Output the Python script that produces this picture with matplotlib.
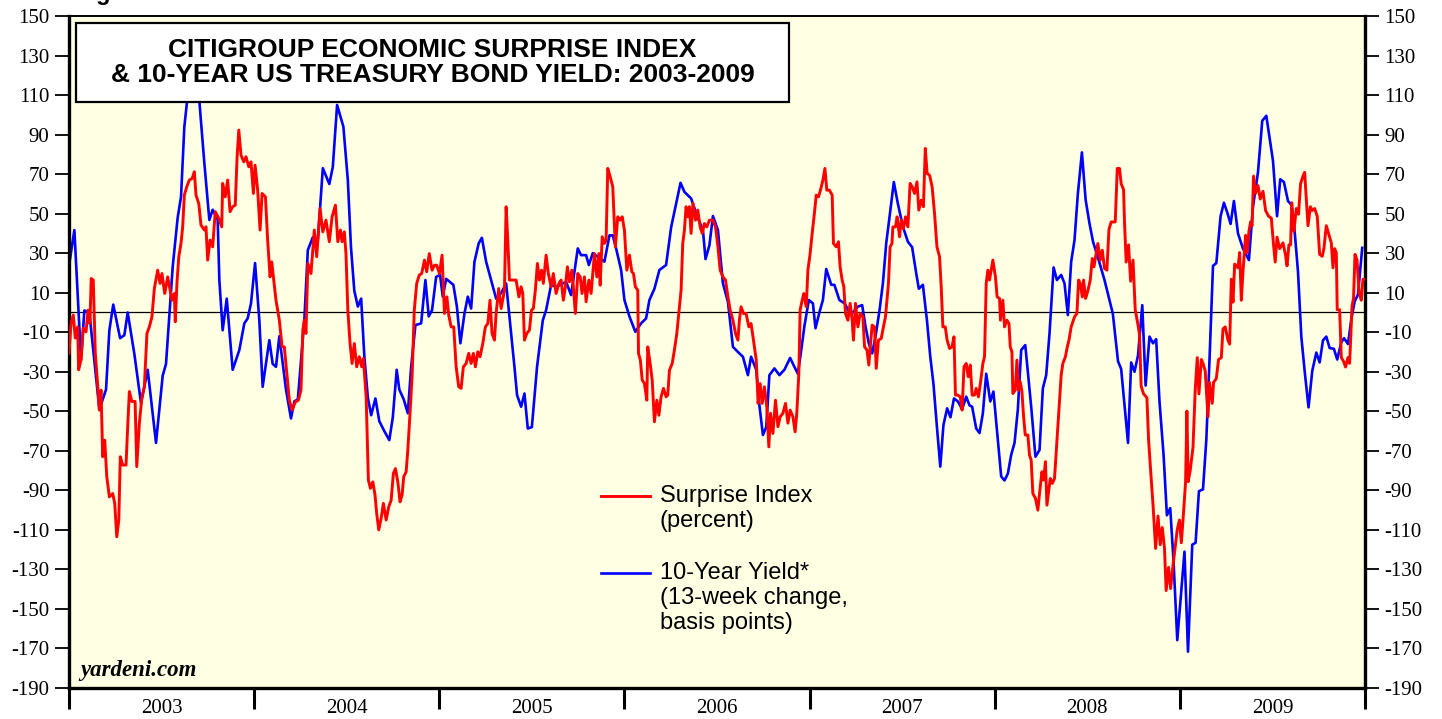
"""
Citigroup Economic Surprise Index vs 13-week change in 10-year UST yield, 2003-2009.
Values read off the yardeni.com chart by eye.
"""
import numpy as np
import matplotlib.pyplot as plt
import matplotlib.patches as patches

plt.rcParams["axes.unicode_minus"] = False

# ── Surprise index (percent): time in years since 1 Jan 2003 ──
red_yrs = [
    0.000, 0.011, 0.023, 0.034, 0.047, 0.052, 0.065, 0.077, 0.092, 0.103, 0.113, 0.120,
    0.131, 0.142, 0.155, 0.164, 0.173, 0.182, 0.193, 0.204, 0.218, 0.236, 0.247, 0.258,
    0.269, 0.277, 0.290, 0.308, 0.317, 0.326, 0.339, 0.357, 0.366, 0.380, 0.394, 0.407,
    0.421, 0.434, 0.448, 0.461, 0.479, 0.492, 0.502, 0.517, 0.533, 0.546, 0.556, 0.569,
    0.574, 0.583, 0.593, 0.605, 0.614, 0.623, 0.636, 0.650, 0.665, 0.677, 0.686, 0.701,
    0.713, 0.731, 0.740, 0.749, 0.762, 0.776, 0.790, 0.809, 0.825, 0.830, 0.844, 0.857,
    0.870, 0.884, 0.898, 0.908, 0.917, 0.929, 0.944, 0.956, 0.971, 0.983, 0.996, 1.005,
    1.019, 1.032, 1.043, 1.061, 1.073, 1.086, 1.095, 1.104, 1.118, 1.136, 1.151, 1.163,
    1.178, 1.190, 1.205, 1.223, 1.239, 1.253, 1.263, 1.271, 1.280, 1.290, 1.307, 1.325,
    1.338, 1.356, 1.371, 1.388, 1.406, 1.421, 1.439, 1.452, 1.466, 1.475, 1.487, 1.496,
    1.506, 1.518, 1.529, 1.541, 1.554, 1.568, 1.581, 1.590, 1.605, 1.617, 1.628, 1.641,
    1.653, 1.662, 1.673, 1.686, 1.698, 1.713, 1.727, 1.740, 1.752, 1.763, 1.776, 1.788,
    1.799, 1.808, 1.821, 1.830, 1.842, 1.853, 1.865, 1.878, 1.892, 1.905, 1.920, 1.932,
    1.946, 1.961, 1.974, 1.986, 2.001, 2.015, 2.028, 2.041, 2.051, 2.064, 2.078, 2.091,
    2.105, 2.118, 2.130, 2.145, 2.159, 2.172, 2.184, 2.195, 2.208, 2.220, 2.235, 2.249,
    2.262, 2.274, 2.285, 2.298, 2.307, 2.321, 2.334, 2.352, 2.361, 2.370, 2.379, 2.397,
    2.415, 2.430, 2.442, 2.451, 2.460, 2.473, 2.487, 2.498, 2.508, 2.519, 2.530, 2.541,
    2.552, 2.562, 2.577, 2.589, 2.604, 2.616, 2.631, 2.646, 2.658, 2.670, 2.681, 2.692,
    2.703, 2.716, 2.724, 2.735, 2.748, 2.761, 2.771, 2.784, 2.793, 2.808, 2.820, 2.838,
    2.851, 2.862, 2.869, 2.880, 2.892, 2.901, 2.910, 2.923, 2.937, 2.951, 2.964, 2.977,
    2.988, 3.000, 3.013, 3.027, 3.040, 3.049, 3.059, 3.072, 3.076, 3.086, 3.096, 3.108,
    3.121, 3.126, 3.139, 3.150, 3.162, 3.175, 3.186, 3.198, 3.211, 3.225, 3.234, 3.243,
    3.258, 3.270, 3.283, 3.297, 3.306, 3.315, 3.324, 3.333, 3.343, 3.351, 3.360, 3.370,
    3.384, 3.396, 3.409, 3.420, 3.432, 3.445, 3.459, 3.478, 3.492, 3.505, 3.517, 3.532,
    3.546, 3.559, 3.571, 3.586, 3.600, 3.613, 3.621, 3.630, 3.643, 3.657, 3.672, 3.684,
    3.697, 3.712, 3.722, 3.733, 3.744, 3.756, 3.769, 3.780, 3.789, 3.802, 3.816, 3.829,
    3.841, 3.856, 3.870, 3.883, 3.895, 3.910, 3.922, 3.931, 3.942, 3.949, 3.960, 3.969,
    3.982, 3.991, 4.003, 4.014, 4.026, 4.036, 4.048, 4.059, 4.072, 4.083, 4.093, 4.107,
    4.122, 4.129, 4.144, 4.156, 4.165, 4.176, 4.185, 4.194, 4.207, 4.219, 4.230, 4.237,
    4.248, 4.261, 4.273, 4.288, 4.297, 4.310, 4.320, 4.327, 4.338, 4.351, 4.360, 4.372,
    4.387, 4.399, 4.410, 4.418, 4.426, 4.435, 4.445, 4.450, 4.464, 4.473, 4.486, 4.495,
    4.507, 4.518, 4.531, 4.543, 4.554, 4.567, 4.580, 4.590, 4.603, 4.615, 4.625, 4.635,
    4.648, 4.662, 4.675, 4.688, 4.702, 4.711, 4.720, 4.733, 4.743, 4.756, 4.769, 4.780,
    4.788, 4.801, 4.814, 4.824, 4.834, 4.846, 4.857, 4.868, 4.878, 4.891, 4.900, 4.912,
    4.925, 4.936, 4.945, 4.954, 4.963, 4.972, 4.981, 4.990, 5.004, 5.013, 5.026, 5.031,
    5.044, 5.053, 5.066, 5.077, 5.084, 5.093, 5.098, 5.111, 5.120, 5.129, 5.138, 5.147,
    5.156, 5.165, 5.179, 5.188, 5.197, 5.206, 5.220, 5.233, 5.242, 5.255, 5.264, 5.274,
    5.282, 5.293, 5.300, 5.311, 5.323, 5.332, 5.341, 5.350, 5.359, 5.368, 5.382, 5.392,
    5.401, 5.413, 5.422, 5.431, 5.444, 5.453, 5.462, 5.473, 5.480, 5.491, 5.504, 5.516,
    5.527, 5.536, 5.548, 5.557, 5.570, 5.581, 5.593, 5.606, 5.617, 5.629, 5.651, 5.662,
    5.674, 5.683, 5.696, 5.701, 5.710, 5.723, 5.734, 5.747, 5.759, 5.774, 5.782, 5.791,
    5.804, 5.822, 5.831, 5.842, 5.855, 5.869, 5.882, 5.894, 5.905, 5.917, 5.926, 5.939,
    5.950, 5.963, 5.975, 5.986, 5.998, 6.008, 6.020, 6.031, 6.038, 6.045, 6.056, 6.071,
    6.083, 6.094, 6.103, 6.116, 6.125, 6.137, 6.152, 6.160, 6.175, 6.182, 6.197, 6.209,
    6.224, 6.233, 6.245, 6.260, 6.269, 6.278, 6.287, 6.296, 6.314, 6.323, 6.332, 6.341,
    6.355, 6.364, 6.373, 6.382, 6.390, 6.398, 6.409, 6.422, 6.434, 6.449, 6.463, 6.479,
    6.494, 6.506, 6.515, 6.525, 6.539, 6.557, 6.570, 6.579, 6.589, 6.598, 6.605, 6.616,
    6.629, 6.641, 6.652, 6.665, 6.674, 6.683, 6.692, 6.705, 6.715, 6.728, 6.742, 6.755,
    6.769, 6.778, 6.791, 6.803, 6.818, 6.827, 6.836, 6.845, 6.850, 6.863, 6.872, 6.884,
    6.895, 6.908, 6.917, 6.930, 6.938, 6.946, 6.957, 6.968, 6.980, 6.989, 7.000,
]
red_vals = [
    -20.7, -5.6, -1.3, -13.0, -7.3, -29.0, -24.0, -8.0, -9.8, 1.2, -5.6, 17.2,
    16.4, -20.7, -36.8, -49.4, -39.3, -73.0, -64.6, -83.0, -93.3, -91.6, -96.6, -113.5,
    -105.0, -73.0, -77.2, -77.2, -57.8, -40.0, -45.0, -45.0, -78.0, -56.0, -42.7, -37.6,
    -10.6, -7.3, -2.2, 12.1, 21.4, 14.7, 19.7, 9.6, 18.0, 11.3, 6.2, 9.6,
    -4.7, 14.7, 28.2, 35.0, 43.3, 59.4, 63.6, 67.0, 67.8, 71.2, 59.4, 55.0,
    44.2, 41.7, 43.3, 26.5, 36.6, 33.2, 51.0, 47.6, 43.3, 65.3, 58.5, 67.0,
    51.0, 53.5, 54.3, 78.8, 92.3, 79.6, 76.2, 78.8, 73.7, 76.2, 60.2, 74.5,
    61.9, 41.7, 60.2, 58.5, 36.6, 18.0, 25.6, 18.0, 6.2, -3.9, -17.4, -17.4,
    -32.5, -44.4, -49.4, -45.2, -44.4, -39.3, -8.9, -3.9, -10.6, 24.8, 19.7, 41.7,
    28.2, 52.6, 40.8, 46.7, 35.8, 48.4, 54.3, 35.8, 41.7, 35.8, 40.8, 29.8,
    1.2, -15.7, -25.8, -15.7, -27.5, -22.4, -27.5, -23.3, -42.7, -84.8, -89.0, -85.7,
    -92.4, -101.7, -110.0, -104.2, -96.6, -105.0, -98.3, -95.0, -81.5, -79.0, -85.7, -95.8,
    -92.4, -83.1, -80.6, -69.6, -51.0, -32.5, 1.2, 14.7, 18.9, 19.7, 26.5, 20.6,
    29.8, 21.4, 23.9, 23.9, 19.7, 29.0, -0.5, 7.9, -1.3, -7.3, -7.3, -27.5,
    -37.6, -38.4, -27.5, -25.8, -20.7, -25.8, -20.7, -27.5, -19.9, -22.4, -15.7, -7.3,
    -5.6, 6.2, -10.6, -14.0, -0.5, 12.1, 2.0, 11.3, 53.5, 36.6, 16.4, 16.4,
    16.4, 7.9, 13.0, 9.6, -14.0, -10.6, -8.9, 1.2, 2.0, 11.3, 24.8, 16.4,
    21.4, 14.7, 29.0, 19.7, 13.0, 19.7, 9.6, 14.7, 16.4, 6.2, 13.0, 23.1,
    15.5, 21.4, 13.0, -0.5, 19.7, 18.0, 9.6, 18.0, 5.4, 16.4, 9.6, 29.8,
    18.0, 29.8, 13.8, 38.3, 34.9, 36.6, 72.9, 68.7, 63.6, 33.2, 48.4, 46.7,
    48.4, 41.7, 21.4, 29.0, 20.6, 19.7, 13.0, 11.3, -20.7, -24.1, -34.2, -35.9,
    -44.4, -17.4, -25.8, -34.2, -55.3, -44.4, -52.0, -42.7, -38.4, -42.7, -41.8, -29.3,
    -25.8, -19.0, -10.6, 2.9, 11.3, 34.9, 41.7, 53.5, 48.4, 53.5, 40.0, 55.2,
    46.7, 51.8, 43.3, 40.0, 45.0, 43.3, 46.7, 46.7, 43.3, 33.2, 21.4, 18.0,
    16.4, 7.9, 1.2, -3.9, -10.6, -14.0, -3.9, 2.9, -0.5, -0.5, -7.3, -5.6,
    -14.0, -24.1, -46.0, -36.0, -46.0, -37.6, -47.7, -68.0, -51.0, -61.2, -44.4, -57.8,
    -52.8, -51.0, -46.0, -56.0, -49.4, -52.8, -60.4, -51.0, -30.9, 1.2, 6.2, 9.6,
    2.9, 21.4, 29.8, 40.0, 50.1, 59.4, 58.5, 61.9, 67.0, 72.9, 61.9, 61.9,
    59.4, 34.9, 33.2, 35.8, 23.1, 16.4, 13.0, -0.5, -3.9, 4.6, -3.9, -14.0,
    4.6, -7.3, -0.5, -2.2, -17.4, -19.0, -26.6, -18.2, -6.4, -7.3, -28.3, -14.0,
    -13.2, -7.3, -2.2, 6.2, 14.7, 33.2, 34.9, 43.3, 43.3, 48.4, 38.3, 46.7,
    42.5, 48.4, 43.3, 65.3, 63.6, 60.2, 66.1, 51.8, 56.8, 53.5, 83.0, 70.3,
    69.5, 63.6, 50.1, 33.2, 28.2, 13.0, -7.3, -7.3, -14.0, -18.2, -17.4, -12.3,
    -41.8, -41.8, -42.7, -49.4, -27.5, -25.8, -32.5, -26.6, -41.8, -41.8, -38.4, -42.7,
    -34.2, -25.8, -22.4, 14.7, 21.4, 16.4, 21.4, 26.5, 18.0, 7.9, 7.1, -3.9,
    6.2, -7.3, -3.9, -5.6, -17.4, -19.9, -41.0, -39.3, -24.1, -39.3, -35.1, -40.1,
    -52.8, -62.0, -62.0, -72.2, -74.7, -91.6, -94.0, -100.0, -91.6, -80.6, -84.8, -75.5,
    -97.5, -89.0, -84.0, -86.5, -84.0, -71.3, -57.8, -44.4, -31.7, -25.8, -22.4, -17.4,
    -14.0, -7.3, -4.7, -2.2, -0.5, 16.4, 14.7, 7.9, 16.4, 7.1, 11.3, 16.4,
    27.3, 23.1, 29.8, 34.9, 26.5, 31.5, 22.3, 21.4, 42.0, 45.8, 45.8, 72.9,
    72.9, 65.1, 62.2, 45.8, 25.5, 34.2, 15.8, 26.5, 1.4, -6.4, -11.2, -37.3,
    -41.2, -43.1, -64.3, -79.8, -97.2, -119.4, -103.0, -117.5, -108.8, -119.4, -140.7, -129.0,
    -139.7, -128.0, -118.5, -109.8, -105.0, -116.5, -101.0, -85.6, -49.9, -85.6, -79.8, -68.2,
    -39.2, -22.8, -41.2, -23.8, -25.7, -29.6, -52.8, -35.4, -46.0, -35.4, -33.4, -23.8,
    -22.8, -8.3, -7.3, -14.1, -16.0, 16.8, 5.2, 24.5, 22.6, 30.3, 6.2, 20.7,
    39.0, 30.3, 41.0, 45.8, 43.9, 69.0, 60.3, 64.2, 57.4, 61.3, 51.6, 48.7,
    47.7, 34.2, 25.5, 38.1, 32.3, 35.2, 29.4, 23.6, 34.2, 34.2, 55.5, 41.0,
    52.6, 49.7, 65.1, 69.0, 70.9, 57.4, 43.9, 53.5, 51.6, 52.6, 48.7, 29.4,
    28.4, 32.3, 43.9, 40.0, 35.2, 22.6, 32.3, 30.3, 1.4, 1.4, -22.8, -24.7,
    -27.6, -22.8, -25.7, 3.3, 7.1, 29.4, 26.5, 10.0, 6.2, 16.8, 16.8,
]

# ── 10-year yield, 13-week change (basis points) ──
blue_yrs = [
    0.002, 0.029, 0.065, 0.083, 0.110, 0.164, 0.200, 0.218, 0.239, 0.276, 0.299, 0.317,
    0.353, 0.389, 0.425, 0.470, 0.506, 0.524, 0.560, 0.587, 0.605, 0.623, 0.655, 0.704,
    0.731, 0.758, 0.776, 0.803, 0.812, 0.830, 0.852, 0.884, 0.920, 0.947, 0.965, 0.983,
    1.005, 1.028, 1.046, 1.082, 1.100, 1.118, 1.136, 1.172, 1.199, 1.217, 1.236, 1.271,
    1.290, 1.317, 1.344, 1.371, 1.406, 1.425, 1.448, 1.482, 1.506, 1.523, 1.541, 1.560,
    1.578, 1.595, 1.614, 1.632, 1.655, 1.676, 1.703, 1.730, 1.749, 1.770, 1.784, 1.808,
    1.830, 1.848, 1.871, 1.902, 1.925, 1.943, 1.961, 1.983, 2.004, 2.019, 2.037, 2.076,
    2.095, 2.114, 2.136, 2.154, 2.172, 2.190, 2.213, 2.230, 2.253, 2.280, 2.307, 2.334,
    2.361, 2.388, 2.406, 2.420, 2.442, 2.460, 2.478, 2.500, 2.528, 2.559, 2.577, 2.604,
    2.631, 2.685, 2.712, 2.748, 2.766, 2.793, 2.808, 2.829, 2.892, 2.919, 2.937, 2.955,
    2.982, 3.000, 3.027, 3.059, 3.090, 3.117, 3.135, 3.162, 3.189, 3.225, 3.252, 3.279,
    3.303, 3.324, 3.360, 3.396, 3.424, 3.438, 3.459, 3.478, 3.505, 3.532, 3.559, 3.586,
    3.613, 3.640, 3.667, 3.684, 3.712, 3.729, 3.748, 3.766, 3.783, 3.810, 3.837, 3.864,
    3.895, 3.918, 3.937, 3.955, 3.972, 3.996, 4.018, 4.032, 4.053, 4.072, 4.090, 4.117,
    4.134, 4.161, 4.189, 4.216, 4.234, 4.261, 4.284, 4.302, 4.320, 4.338, 4.356, 4.378,
    4.396, 4.414, 4.432, 4.455, 4.477, 4.504, 4.531, 4.554, 4.576, 4.590, 4.612, 4.634,
    4.652, 4.669, 4.688, 4.706, 4.723, 4.743, 4.761, 4.780, 4.801, 4.824, 4.846, 4.864,
    4.878, 4.900, 4.918, 4.936, 4.954, 4.976, 4.993, 5.017, 5.035, 5.053, 5.071, 5.089,
    5.107, 5.125, 5.143, 5.165, 5.197, 5.220, 5.242, 5.260, 5.278, 5.296, 5.318, 5.336,
    5.359, 5.377, 5.395, 5.413, 5.431, 5.449, 5.471, 5.491, 5.512, 5.531, 5.557, 5.593,
    5.638, 5.666, 5.683, 5.701, 5.720, 5.737, 5.755, 5.774, 5.797, 5.815, 5.836, 5.855,
    5.872, 5.890, 5.912, 5.930, 5.948, 5.966, 5.986, 6.025, 6.044, 6.067, 6.085, 6.103,
    6.125, 6.143, 6.161, 6.179, 6.197, 6.220, 6.238, 6.256, 6.274, 6.292, 6.314, 6.341,
    6.373, 6.395, 6.422, 6.445, 6.467, 6.503, 6.525, 6.542, 6.562, 6.584, 6.602, 6.620,
    6.638, 6.656, 6.674, 6.695, 6.715, 6.737, 6.755, 6.773, 6.791, 6.809, 6.832, 6.850,
    6.872, 6.887, 6.908, 6.926, 6.944, 6.962, 6.985,
]
blue_vals = [
    24.8, 41.7, -24.0, 1.0, 0.0, -49.0, -39.0, -9.0, 4.0, -13.0, -11.5, 0.0,
    -21.0, -46.0, -29.0, -66.0, -32.0, -26.0, 23.0, 48.0, 58.5, 94.0, 122.0, 107.0,
    75.6, 46.8, 52.0, 47.0, 16.4, -9.0, 7.0, -29.0, -19.0, -5.5, -3.0, 4.6,
    25.0, -4.0, -37.6, -14.0, -26.0, -27.5, -12.0, -39.0, -53.6, -45.0, -44.0, -4.0,
    31.6, 38.0, 36.6, 73.0, 65.0, 73.7, 105.0, 94.0, 67.0, 33.0, 11.0, 3.0,
    7.0, -22.0, -43.0, -52.0, -43.5, -55.0, -60.0, -64.6, -53.0, -29.0, -39.0, -44.0,
    -51.0, -27.5, -6.4, -5.5, 16.4, -2.0, 1.2, 18.0, 19.0, 8.0, 17.0, 14.0,
    3.0, -15.6, -0.5, 8.0, 2.0, 25.7, 35.0, 37.8, 25.7, 16.4, 7.0, 9.7,
    14.7, -10.6, -27.5, -41.8, -47.7, -41.0, -58.7, -58.0, -27.5, -4.0, 1.2, 14.0,
    13.0, 15.5, 8.8, 32.4, 29.0, 29.0, 24.0, 30.0, 25.7, 39.0, 39.0, 32.4,
    21.5, 6.3, -2.0, -9.8, -5.5, -3.0, 6.3, 12.0, 21.5, 24.0, 43.0, 55.0,
    65.6, 61.0, 57.7, 48.0, 41.7, 27.0, 34.0, 48.8, 41.7, 14.7, 5.4, -17.4,
    -20.0, -22.4, -31.7, -22.4, -29.0, -47.0, -62.0, -58.0, -31.7, -28.3, -31.7, -29.0,
    -23.0, -27.5, -31.0, -19.0, -7.0, 6.3, 4.6, -8.0, 0.0, 6.3, 22.0, 14.0,
    14.0, 6.3, 4.6, 0.0, 0.0, 3.0, 3.7, -7.0, -15.6, -20.7, -12.3, 1.2,
    14.7, 35.0, 48.4, 66.0, 55.0, 43.4, 35.8, 33.0, 19.8, 12.0, 14.0, -4.0,
    -22.4, -36.0, -58.0, -78.0, -57.0, -48.5, -53.0, -43.5, -45.0, -49.0, -42.6, -47.0,
    -47.7, -58.7, -61.0, -51.0, -31.0, -45.0, -40.0, -64.6, -83.0, -85.0, -81.5, -72.0,
    -66.0, -49.0, -19.0, -16.5, -47.7, -73.0, -69.6, -38.4, -31.7, -10.6, 22.8, 16.4,
    19.0, 14.7, -1.3, 25.7, 36.6, 60.0, 81.0, 57.0, 45.0, 35.8, 28.0, 16.4,
    -0.6, -24.7, -28.6, -47.0, -66.0, -25.3, -30.0, -21.8, 3.7, -37.0, -12.2, -15.6,
    -13.5, -45.0, -72.0, -102.6, -99.0, -126.0, -165.8, -121.0, -171.6, -117.5, -116.5, -90.4,
    -89.5, -64.3, -21.8, 23.6, 25.0, 48.7, 55.5, 50.6, 44.8, 56.4, 40.0, 32.3,
    26.5, 53.5, 71.0, 97.0, 99.5, 76.7, 48.7, 67.4, 66.0, 56.4, 54.5, 41.0,
    20.7, -12.2, -29.6, -48.0, -29.6, -20.3, -25.3, -14.1, -12.2, -18.0, -18.4, -23.8,
    -15.0, -13.0, -16.0, -3.5, 5.6, 9.0, 32.7,
]

START_YEAR = 2003
YEARS = list(range(2003, 2010))
Y_TICKS = list(range(-190, 151, 20))

RED = "#ff0000"
BLUE = "#0000ff"
SERIF = ["Liberation Serif", "DejaVu Serif"]
SANS = ["Liberation Sans", "DejaVu Sans"]

fig = plt.figure(figsize=(14.42, 7.19), dpi=100)
fig.patch.set_facecolor("white")
ax = fig.add_axes([69 / 1442, 31 / 719, 1296 / 1442, 672 / 719])
ax.set_facecolor("#ffffe4")

red_t = START_YEAR + np.array(red_yrs)
blue_t = START_YEAR + np.array(blue_yrs)

ax.axhline(0, color="black", linewidth=0.9, zorder=1)
ax.plot(blue_t, blue_vals, color=BLUE, linewidth=1.9, zorder=2, solid_joinstyle="round")
ax.plot(red_t, red_vals, color=RED, linewidth=2.1, zorder=3, solid_joinstyle="round")

ax.set_xlim(START_YEAR, YEARS[-1] + 1)
ax.set_ylim(-190, 150)

# ── axes frame ──
for side in ("left", "bottom", "right"):
    ax.spines[side].set_linewidth(2.4)
ax.spines["top"].set_linewidth(1.4)

# ── y ticks both sides ──
ax.set_yticks(Y_TICKS)
ax.tick_params(axis="y", which="major", direction="out", length=10, width=1.3,
               pad=4, labelsize=15, left=True, right=True, labelleft=True, labelright=True)
for lab in ax.get_yticklabels():
    lab.set_fontfamily(SERIF)

# ── x ticks: year boundaries, labels mid-year ──
ax.set_xticks([y for y in YEARS] + [YEARS[-1] + 1])
ax.set_xticklabels([])
ax.set_xticks([y + 0.5 for y in YEARS], minor=True)
ax.set_xticklabels([str(y) for y in YEARS], minor=True, fontsize=15, fontfamily=SERIF)
ax.tick_params(axis="x", which="major", direction="out", length=15, width=2.2)
ax.tick_params(axis="x", which="minor", length=0, pad=8)

# ── title box ──
ax.add_patch(patches.Rectangle((0.0054, 0.872), 0.550, 0.1176, transform=ax.transAxes,
                               facecolor="white", edgecolor="black", linewidth=1.6,
                               zorder=5, clip_on=False))
ax.text(0.2804, 0.931, "CITIGROUP ECONOMIC SURPRISE INDEX\n& 10-YEAR US TREASURY BOND YIELD: 2003-2009",
        transform=ax.transAxes, ha="center", va="center", fontsize=19, fontweight="bold",
        family=SANS, linespacing=1.05, zorder=6)

# ── legend (drawn by hand so the line sits beside the first text line) ──
ax.plot([0.4105, 0.4483], [0.2857, 0.2857], transform=ax.transAxes, color=RED, linewidth=2.1)
ax.text(0.456, 0.2857, "Surprise Index", transform=ax.transAxes, ha="left", va="center",
        fontsize=17, family=SANS)
ax.text(0.456, 0.2485, "(percent)", transform=ax.transAxes, ha="left", va="center",
        fontsize=17, family=SANS)
ax.plot([0.4105, 0.4483], [0.1711, 0.1711], transform=ax.transAxes, color=BLUE, linewidth=1.9)
for i, line in enumerate(["10-Year Yield*", "(13-week change,", "basis points)"]):
    ax.text(0.456, 0.1711 - i * 0.0372, line, transform=ax.transAxes, ha="left", va="center",
            fontsize=17, family=SANS)

ax.text(0.009, 0.011, "yardeni.com", transform=ax.transAxes, ha="left", va="bottom",
        fontsize=16.5, fontweight="bold", fontstyle="italic", family=SERIF)

fig.text(75 / 1442, 1.0, "Figure 1.", ha="left", va="baseline", fontsize=17,
         fontweight="bold", family=SANS)

fig.savefig("out.png", dpi=100)
